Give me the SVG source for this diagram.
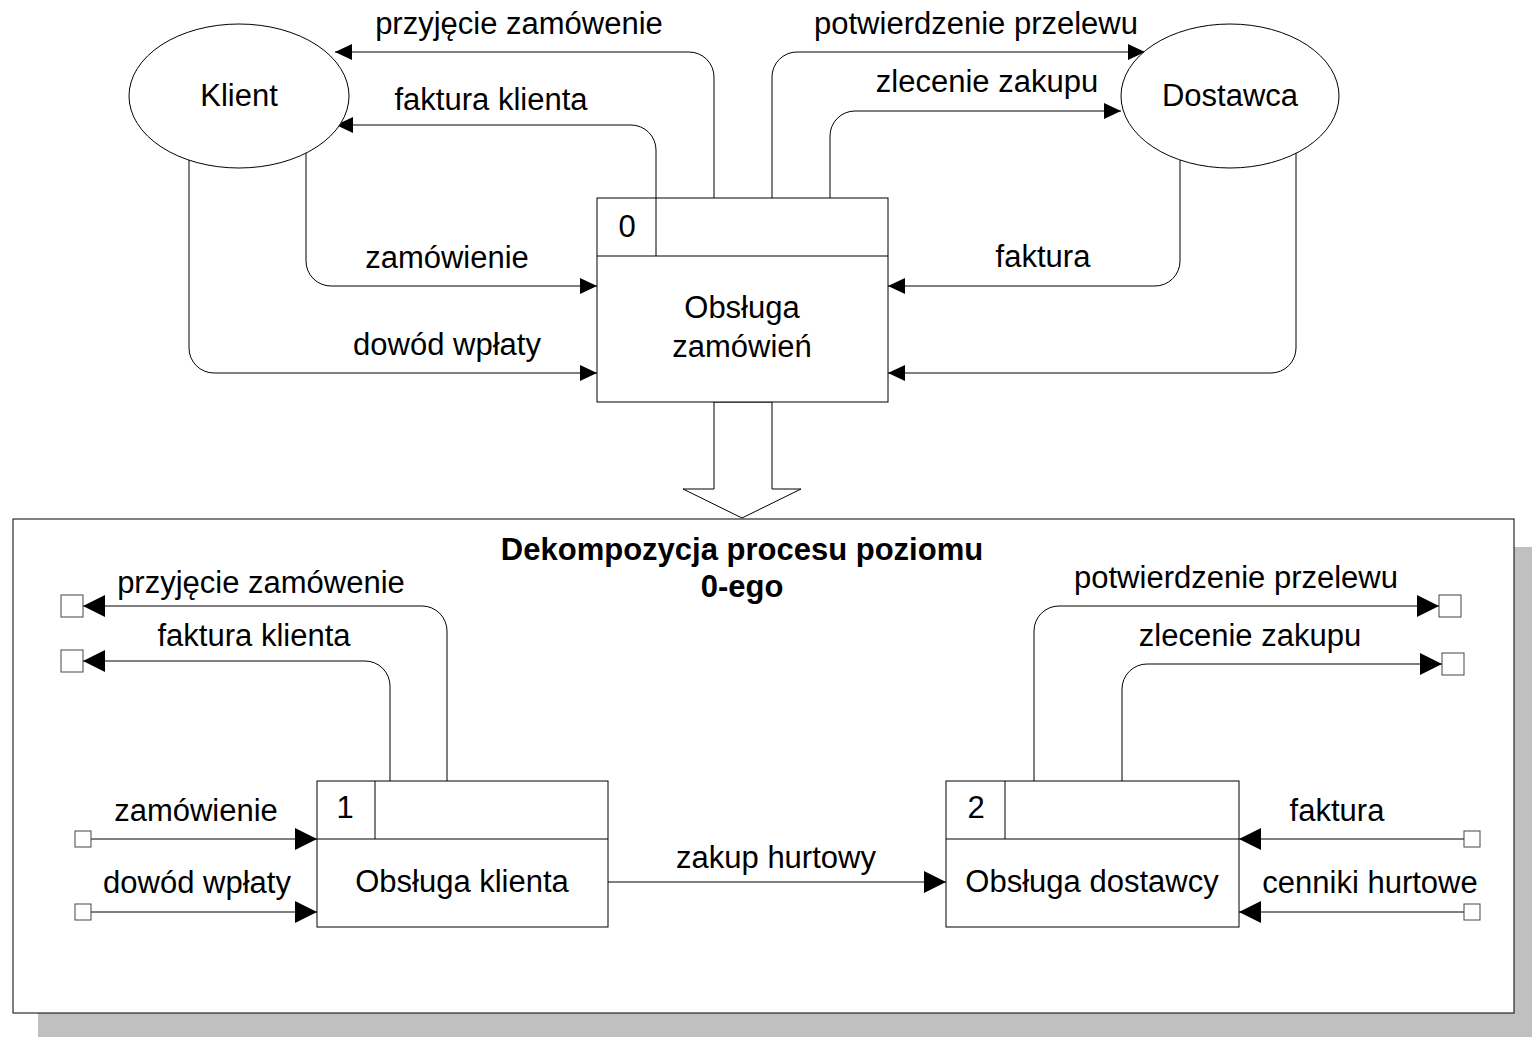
<svg xmlns="http://www.w3.org/2000/svg" width="1532" height="1037" viewBox="0 0 1532 1037">
<style>
text{font-family:"Liberation Sans",Arial,sans-serif;font-size:31px;fill:#000;text-anchor:middle}
.b{font-weight:bold}
.ln{fill:none;stroke:#000;stroke-width:1}
.sm{marker-end:url(#ah)}
.lg{marker-end:url(#ahL)}
.nd{fill:#fff;stroke:#000;stroke-width:1}
.sq{fill:#fff;stroke:#444;stroke-width:1}
</style>
<defs>
<marker id="ah" viewBox="0 0 17 16" markerWidth="17" markerHeight="16" refX="17" refY="8" orient="auto" markerUnits="userSpaceOnUse"><path d="M0,0 L17,8 L0,16 z" fill="#000"/></marker>
<marker id="ahL" viewBox="0 0 22 22" markerWidth="22" markerHeight="22" refX="22" refY="11" orient="auto" markerUnits="userSpaceOnUse"><path d="M0,0 L22,11 L0,22 z" fill="#000"/></marker>
</defs>
<rect width="1532" height="1037" fill="#fff"/>
<!-- decomposition frame -->
<g id="frame">
<rect x="38" y="547" width="1500" height="495" fill="#c0c0c0"/>
<rect x="13" y="519" width="1501" height="494" class="nd"/>
<polygon points="714,402 714,489 683,489 742,518 801,489 772,489 772,402" class="nd"/>
<text class="b" x="742" y="560">Dekompozycja procesu poziomu</text>
<text class="b" x="742" y="597">0-ego</text>
</g>
<g id="connectors">
<path class="ln sm" d="M714,198 V77 A25,25 0 0 0 689,52 H335"/>
<path class="ln sm" d="M656,198 V150 A25,25 0 0 0 631,125 H336"/>
<path class="ln sm" d="M772,198 V77 A25,25 0 0 1 797,52 H1145"/>
<path class="ln sm" d="M830,198 V136 A25,25 0 0 1 855,111 H1121"/>
<path class="ln sm" d="M306,150 V261 A25,25 0 0 0 331,286 H597"/>
<path class="ln sm" d="M189,160 V348 A25,25 0 0 0 214,373 H597"/>
<path class="ln sm" d="M1180,160 V261 A25,25 0 0 1 1155,286 H888"/>
<path class="ln sm" d="M1296,150 V348 A25,25 0 0 1 1271,373 H888"/>
<path class="ln lg" d="M447,781 V631 A25,25 0 0 0 422,606 H83"/>
<path class="ln lg" d="M390,781 V686 A25,25 0 0 0 365,661 H83"/>
<path class="ln lg" d="M91,839 H317"/>
<path class="ln lg" d="M91,912 H317"/>
<path class="ln lg" d="M608,882 H946"/>
<path class="ln lg" d="M1034,781 V631 A25,25 0 0 1 1059,606 H1439"/>
<path class="ln lg" d="M1122,781 V689 A25,25 0 0 1 1147,664 H1442"/>
<path class="ln lg" d="M1464,839 H1239"/>
<path class="ln lg" d="M1464,912 H1239"/>
<rect class="sq" x="61" y="595" width="22" height="22"/>
<rect class="sq" x="61" y="650" width="22" height="22"/>
<rect class="sq" x="75" y="831" width="16" height="16"/>
<rect class="sq" x="75" y="904" width="16" height="16"/>
<rect class="sq" x="1439" y="595" width="22" height="22"/>
<rect class="sq" x="1442" y="653" width="22" height="22"/>
<rect class="sq" x="1464" y="831" width="16" height="16"/>
<rect class="sq" x="1464" y="904" width="16" height="16"/>
<text x="519" y="34">przyjęcie zamówenie</text>
<text x="491" y="110">faktura klienta</text>
<text x="447" y="268">zamówienie</text>
<text x="447" y="355">dowód wpłaty</text>
<text x="976" y="34">potwierdzenie przelewu</text>
<text x="987" y="92">zlecenie zakupu</text>
<text x="1043" y="267">faktura</text>
<text x="261" y="593">przyjęcie zamówenie</text>
<text x="254" y="646">faktura klienta</text>
<text x="196" y="821">zamówienie</text>
<text x="197" y="893">dowód wpłaty</text>
<text x="776" y="868">zakup hurtowy</text>
<text x="1236" y="588">potwierdzenie przelewu</text>
<text x="1250" y="646">zlecenie zakupu</text>
<text x="1337" y="821">faktura</text>
<text x="1370" y="893">cenniki hurtowe</text>
</g>
<g id="klient">
<ellipse cx="239" cy="96" rx="110" ry="72" class="nd"/>
<text x="239" y="106">Klient</text>
</g>
<g id="dostawca">
<ellipse cx="1230" cy="96" rx="109" ry="72" class="nd"/>
<text x="1230" y="106">Dostawca</text>
</g>
<g id="proc0">
<rect x="597" y="198" width="291" height="204" class="nd"/>
<path class="ln" d="M597,256 H888 M656,198 V256"/>
<text x="627" y="237">0</text>
<text x="742" y="318">Obsługa</text>
<text x="742" y="357">zamówień</text>
</g>
<g id="proc1">
<rect x="317" y="781" width="291" height="146" class="nd"/>
<path class="ln" d="M317,839 H608 M375,781 V839"/>
<text x="345" y="818">1</text>
<text x="462" y="892">Obsługa klienta</text>
</g>
<g id="proc2">
<rect x="946" y="781" width="293" height="146" class="nd"/>
<path class="ln" d="M946,839 H1239 M1005,781 V839"/>
<text x="976" y="818">2</text>
<text x="1092" y="892">Obsługa dostawcy</text>
</g>
</svg>
